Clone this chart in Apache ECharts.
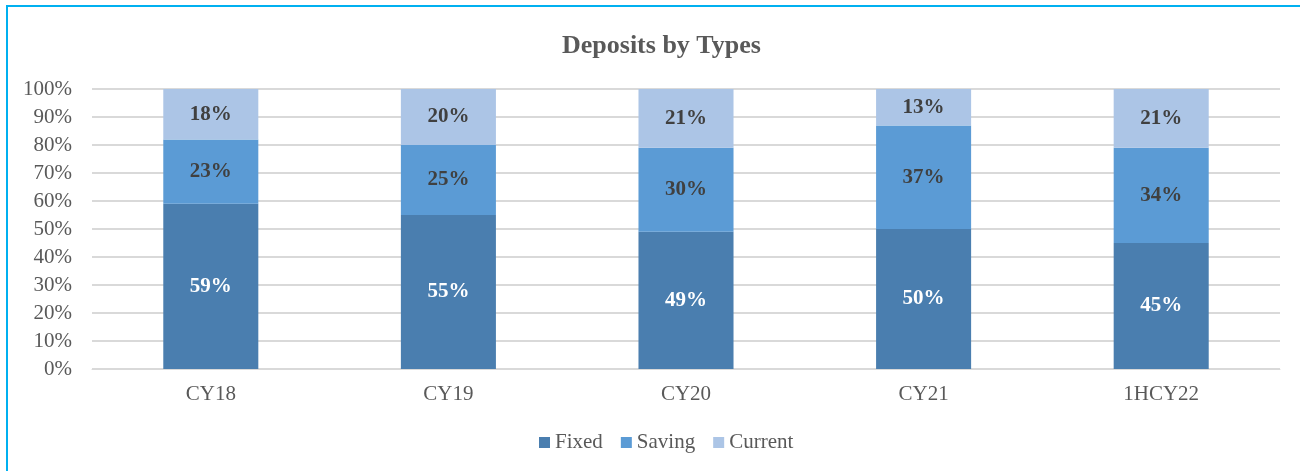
<!DOCTYPE html>
<html>
<head>
<meta charset="utf-8">
<script src="https://cdn.jsdelivr.net/npm/echarts@6/dist/echarts.min.js"></script>
<style>
  html, body { margin: 0; padding: 0; background: #fff; }
  #frame { position: absolute; left: 6px; top: 5px; width: 1300px; height: 480px;
           border-top: 2px solid #00B0F0; border-left: 2px solid #00B0F0; }
  #chart { position: absolute; left: 0; top: 0; width: 1300px; height: 471px; }
</style>
</head>
<body>
<div id="frame"></div>
<div id="chart"></div>
<script>
const categories = ['CY18', 'CY19', 'CY20', 'CY21', '1HCY22'];
const fixed = [59, 55, 49, 50, 45];
const saving = [23, 25, 30, 37, 34];
const current = [18, 20, 21, 13, 21];

const font = '"Liberation Serif", "Times New Roman", serif';

function series(name, data, color, labelColor) {
  return {
    name: name,
    type: 'bar',
    stack: 'total',
    barWidth: '40%',
    data: data,
    itemStyle: { color: color },
    label: {
      show: true,
      formatter: '{c}%',
      color: labelColor,
      fontFamily: font,
      fontWeight: 'bold',
      fontSize: 21
    }
  }
}

const chart = echarts.init(document.getElementById('chart'));
chart.setOption({
  animation: false,
  title: {
    text: 'Deposits by Types',
    left: 557,
    top: 28,
    textStyle: { fontFamily: font, fontWeight: 'bold', fontSize: 26, color: '#595959' }
  },
  legend: {
    left: 534,
    bottom: 13,
    itemWidth: 11,
    itemHeight: 11,
    itemGap: 18,
    icon: 'rect',
    textStyle: { fontFamily: font, fontSize: 21, color: '#595959' },
    data: ['Fixed', 'Saving', 'Current']
  },
  grid: { left: 92, right: 20, top: 89, bottom: 102, containLabel: false },
  xAxis: {
    type: 'category',
    data: categories,
    axisTick: { show: false },
    axisLine: { lineStyle: { color: '#d9d9d9' } },
    axisLabel: { fontFamily: font, fontSize: 21, color: '#595959', margin: 15 }
  },
  yAxis: {
    type: 'value',
    min: 0,
    max: 100,
    interval: 10,
    axisLabel: { formatter: '{value}%', fontFamily: font, fontSize: 21, color: '#595959', margin: 20 },
    splitLine: { lineStyle: { color: '#d9d9d9', width: 2 } },
    axisLine: { show: false },
    axisTick: { show: false }
  },
  series: [
    series('Fixed', fixed, '#4A7EAF', '#ffffff'),
    series('Saving', saving, '#5B9BD5', '#404040'),
    series('Current', current, '#ACC5E6', '#404040')
  ]
});
</script>
</body>
</html>
